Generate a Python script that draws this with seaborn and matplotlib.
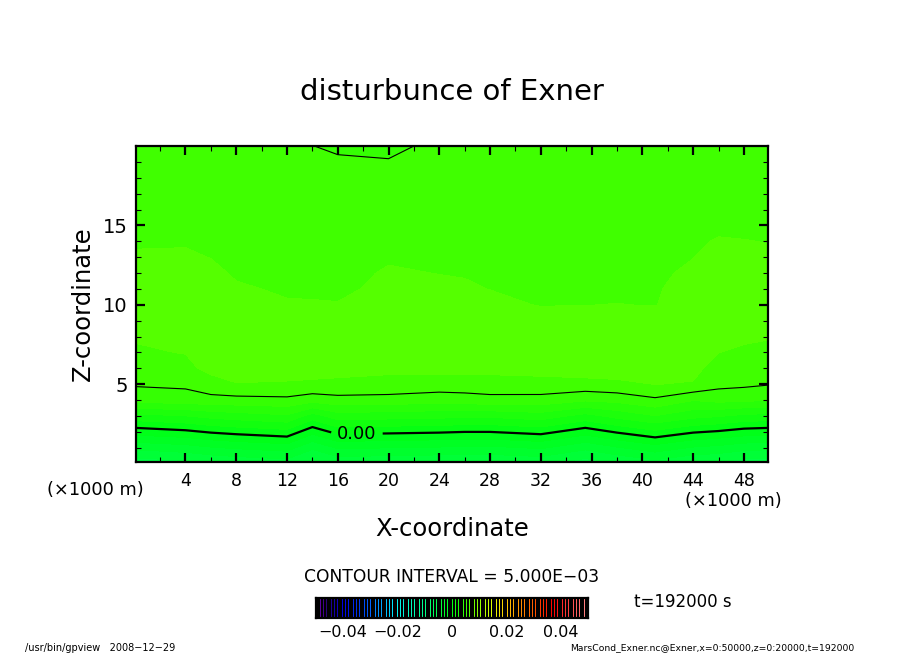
import matplotlib

matplotlib.use('Agg')
import matplotlib.pyplot as plt
import numpy as np
import seaborn as sns
from matplotlib.colors import LinearSegmentedColormap, Normalize

WIDTH, HEIGHT = 904, 654

x_km = [0, 4, 6, 8, 12, 14, 16, 20, 24, 26, 28, 32, 35.5, 38, 41, 44, 46, 48, 50]
z_km = [0.1, 1, 2, 3, 4, 5, 6, 7, 8, 10, 11, 12, 13, 14, 16, 18, 19, 20]

# disturbance of Exner, in units of 1e-3, one list per height
row_z00 = [-4.5, -4.2, -3.9, -3.7, -3.4, -4.0, -3.7, -3.8, -3.9, -3.9, -3.9, -3.7, -4.4, -3.9, -3.3, -3.9, -4.0, -4.4, -4.5]
row_z01 = [-2.75, -2.42, -2.09, -1.87, -1.54, -2.86, -1.87, -1.98, -2.09, -2.2, -2.2, -1.87, -2.75, -2.09, -1.43, -2.09, -2.31, -2.64, -2.75]
row_z02 = [-0.55, -0.22, 0.11, 0.33, 0.66, -0.66, 0.33, 0.22, 0.11, 0.01, 0.01, 0.33, -0.55, 0.11, 0.77, 0.11, -0.11, -0.44, -0.55]
row_z03 = [1.65, 1.98, 2.31, 2.53, 2.86, 1.54, 2.53, 2.42, 2.31, 2.2, 2.2, 2.53, 1.65, 2.31, 2.97, 2.31, 2.09, 1.76, 1.65]
row_z04 = [4.43, 4.53, 4.68, 4.67, 4.76, 4.4, 4.64, 4.62, 4.4, 4.51, 4.68, 4.62, 4.14, 4.3, 4.82, 4.05, 4.3, 4.2, 4.05]
row_z05 = [5.1, 5.2, 5.6, 5.98, 5.95, 5.9, 5.85, 5.7, 5.6, 5.6, 5.6, 5.7, 5.7, 5.85, 6.01, 5.95, 5.3, 5.2, 5.05]
row_z06 = [5.6, 5.75, 6.27, 6.2, 6.2, 6.23, 6.22, 6.2, 6.27, 6.27, 6.27, 6.3, 6.45, 6.35, 6.25, 6.2, 5.7, 5.55, 5.5]
row_z07 = [5.9, 6.03, 6.4, 6.4, 6.4, 6.4, 6.4, 6.4, 6.45, 6.45, 6.45, 6.45, 6.5, 6.5, 6.4, 6.4, 6.01, 5.85, 5.85]
row_z08 = [6.07, 6.25, 6.5, 6.55, 6.55, 6.55, 6.55, 6.55, 6.6, 6.6, 6.6, 6.6, 6.6, 6.6, 6.55, 6.55, 6.2, 6.15, 6.04]
row_z10 = [6.3, 6.4, 6.5, 6.3, 6.07, 6.05, 6.03, 6.2, 6.2, 6.2, 6.15, 5.97, 5.99, 6.01, 5.98, 6.3, 6.35, 6.3, 6.2]
row_z11 = [6.3, 6.4, 6.4, 6.1, 5.9, 5.9, 5.88, 6.15, 6.1, 6.06, 5.99, 5.9, 5.9, 5.92, 5.95, 6.2, 6.35, 6.3, 6.2]
row_z12 = [6.25, 6.3, 6.2, 5.9, 5.85, 5.85, 5.85, 6.05, 5.99, 5.97, 5.92, 5.85, 5.85, 5.85, 5.9, 6.1, 6.3, 6.25, 6.15]
row_z13 = [6.1, 6.12, 5.98, 5.85, 5.8, 5.8, 5.8, 5.95, 5.9, 5.9, 5.85, 5.8, 5.8, 5.8, 5.85, 5.99, 6.2, 6.15, 6.08]
row_z14 = [5.9, 5.92, 5.85, 5.8, 5.75, 5.75, 5.75, 5.8, 5.8, 5.8, 5.8, 5.75, 5.75, 5.75, 5.8, 5.9, 6.05, 6.02, 5.98]
row_z16 = [5.7, 5.7, 5.7, 5.7, 5.7, 5.7, 5.7, 5.7, 5.7, 5.7, 5.7, 5.7, 5.7, 5.7, 5.7, 5.7, 5.7, 5.7, 5.7]
row_z18 = [5.35, 5.35, 5.35, 5.35, 5.35, 5.35, 5.35, 5.3, 5.35, 5.35, 5.35, 5.35, 5.35, 5.35, 5.35, 5.35, 5.35, 5.35, 5.35]
row_z19 = [5.1, 5.1, 5.1, 5.1, 5.1, 5.1, 5.1, 5.05, 5.1, 5.1, 5.1, 5.1, 5.1, 5.1, 5.1, 5.1, 5.1, 5.1, 5.1]
row_z20 = [5.1, 5.1, 5.1, 5.1, 5.1, 5.01, 4.88, 4.8, 5.2, 5.1, 5.1, 5.1, 5.1, 5.1, 5.1, 5.1, 5.1, 5.1, 5.1]

x_ticks = [4, 8, 12, 16, 20, 24, 28, 32, 36, 40, 44, 48]
z_ticks = [5, 10, 15]
cbar_ticks = [-0.04, -0.02, 0, 0.02, 0.04]
cbar_labels = ['\u22120.04', '\u22120.02', '0', '0.02', '0.04']

cmap_anchors = [
    (-0.05, (120, 0, 180)), (-0.046, (40, 0, 120)), (-0.04, (0, 0, 230)),
    (-0.03, (0, 100, 255)), (-0.021, (0, 240, 255)), (-0.012, (0, 255, 160)),
    (-0.004, (0, 255, 60)), (0, (0, 255, 20)), (0.0055, (64, 255, 0)),
    (0.0065, (85, 255, 0)), (0.015, (230, 255, 0)), (0.02, (255, 200, 0)),
    (0.03, (255, 90, 0)), (0.037, (255, 0, 0)), (0.05, (255, 140, 140)),
]


def px_rect(left, top, right, bottom):
    return [left / WIDTH, 1 - bottom / HEIGHT, (right - left) / WIDTH, (bottom - top) / HEIGHT]


def put_text(fig, x, y, text, **kwargs):
    kwargs.setdefault('ha', 'center')
    kwargs.setdefault('va', 'center')
    kwargs.setdefault('color', 'black')
    fig.text(x / WIDTH, 1 - y / HEIGHT, text, **kwargs)


def draw_field(ax, cmap, norm):
    field = 1e-3 * np.array([
        row_z00, row_z01, row_z02, row_z03, row_z04, row_z05, row_z06, row_z07, row_z08,
        row_z10, row_z11, row_z12, row_z13, row_z14, row_z16, row_z18, row_z19, row_z20,
    ])
    levels = np.round(np.arange(-50, 51) * 1e-3, 3)
    ax.contourf(x_km, z_km, field, levels=levels, cmap=cmap, norm=norm)
    ax.contour(x_km, z_km, field, levels=[0.005], colors='black', linewidths=0.8)
    zero = ax.contour(x_km, z_km, field, levels=[0.0], colors='black', linewidths=1.6)
    labels = ax.clabel(zero, fmt='%.2f', fontsize=13, colors='black', manual=[(17.5, 1.9)], inline=True, inline_spacing=6)
    for label in labels:
        label.set_rotation(0)

    ax.set_axisbelow(False)
    ax.set_xlim(0.1, 49.9)
    ax.set_ylim(0.1, 20)
    ax.set_xticks(x_ticks)
    ax.set_xticks(np.arange(2, 50, 4), minor=True)
    ax.set_yticks(z_ticks)
    ax.set_yticks(np.arange(1, 20), minor=True)
    ax.tick_params(which='major', direction='in', top=True, right=True, bottom=True, left=True,
                   length=6.5, width=1.6, color='black', labelcolor='black', labelsize=12.5, pad=7)
    ax.tick_params(which='minor', direction='in', top=True, right=True, bottom=True, left=True,
                   length=3.6, width=0.8, color='black')
    ax.tick_params(axis='y', which='major', labelsize=14, pad=6)
    for spine in ax.spines.values():
        spine.set_visible(True)
        spine.set_color('black')
        spine.set_linewidth(1.6)


def draw_colorbar(ax, cmap, norm):
    # one cell per pixel of the 272 px box, only the stripes of each group of three unmasked
    n_cells = 272
    values = (np.arange(n_cells) + 0.5) / n_cells * 0.1 - 0.05
    stripes = values.reshape(1, -1)
    offset = np.arange(n_cells) % 11
    mask = ~np.isin(offset, [4, 7, 10]).reshape(1, -1)
    ax.set_facecolor('black')
    sns.heatmap(stripes, ax=ax, cmap=cmap, norm=norm, cbar=False, mask=mask,
                xticklabels=False, yticklabels=False)
    ax.set_xticks([(v + 0.05) / 0.1 * n_cells for v in cbar_ticks])
    ax.set_xticklabels(cbar_labels, fontsize=11.5, rotation=0, color='black')
    ax.set_yticks([])
    ax.tick_params(axis='x', length=0, pad=5)
    for spine in ax.spines.values():
        spine.set_visible(True)
        spine.set_color('black')
        spine.set_linewidth(1.6)


def main():
    sns.set_theme(style='white')
    plt.rcParams['font.family'] = ['DejaVu Sans']

    colors = [tuple(c / 255 for c in rgb) for _, rgb in cmap_anchors]
    stops = [(v + 0.05) / 0.1 for v, _ in cmap_anchors]
    cmap = LinearSegmentedColormap.from_list('gpview_rainbow', list(zip(stops, colors)), N=1024)
    norm = Normalize(vmin=-0.05, vmax=0.05)

    fig = plt.figure(figsize=(WIDTH / 100, HEIGHT / 100), dpi=100, facecolor='white')
    ax = fig.add_axes(px_rect(136, 146, 768, 462))
    cax = fig.add_axes(px_rect(316, 598, 588, 618))
    draw_field(ax, cmap, norm)
    draw_colorbar(cax, cmap, norm)

    put_text(fig, 452, 92, 'disturbunce of Exner', fontsize=21)
    put_text(fig, 452, 529, 'X-coordinate', fontsize=17.5)
    put_text(fig, 83, 304, 'Z-coordinate', fontsize=17.5, rotation=90)
    put_text(fig, 95, 490, '(\u00d71000 m)', fontsize=12.8)
    put_text(fig, 733, 501, '(\u00d71000 m)', fontsize=12.8)
    put_text(fig, 452, 577, 'CONTOUR INTERVAL = 5.000E\u221203', fontsize=12.3)
    put_text(fig, 634, 602, 't=192000 s', fontsize=12, ha='left')
    put_text(fig, 25, 648, '/usr/bin/gpview   2008\u221212\u221229', fontsize=7, ha='left')
    put_text(fig, 570, 648, 'MarsCond_Exner.nc@Exner,x=0:50000,z=0:20000,t=192000', fontsize=6.7, ha='left')

    fig.savefig('out.png', dpi=100)
    plt.close(fig)


if __name__ == '__main__':
    main()
